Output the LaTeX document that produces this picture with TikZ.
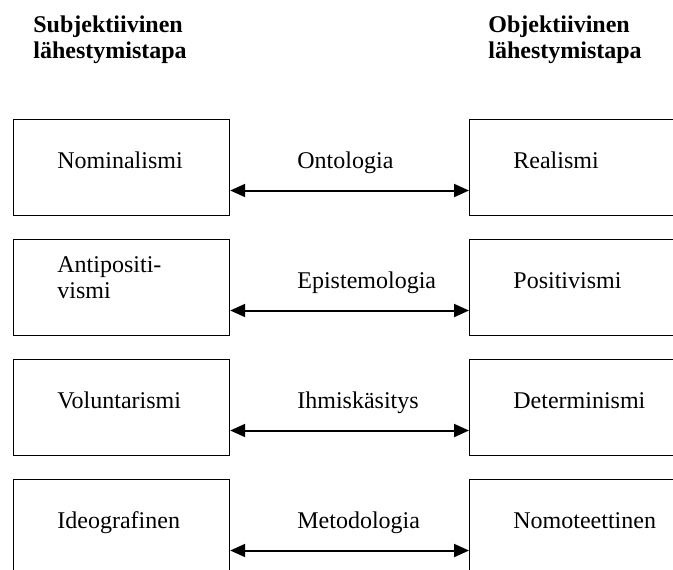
\documentclass[tikz,border=0pt]{standalone}
\usepackage{fontspec}
\setmainfont{Liberation Serif}
\usetikzlibrary{arrows.meta}
\tikzset{
  box/.style={draw, line width=0.6pt, rectangle, inner sep=0pt, minimum width=108pt, minimum height=48pt, anchor=north west},
  rbox/.style={box, minimum width=130pt},
  lbl/.style={inner sep=0pt, anchor=base west, font=\fontsize{12pt}{13pt}\selectfont},
  head/.style={lbl, font=\fontsize{12pt}{13pt}\selectfont\bfseries, align=left},
  link/.style={line width=1pt, {Triangle[length=7.5pt,width=6.5pt]}-{Triangle[length=7.5pt,width=6.5pt]}}
}
\begin{document}
\begin{tikzpicture}[x=0.5pt, y=-0.5pt]
\useasboundingbox (0,0) rectangle (673,569);
\clip (0,0) rectangle (673,569);
\fill[white] (0,0) rectangle (673,569);
% headers
\node[head] (hl1) at (33,32) {Subjektiivinen};
\node[head] (hl2) at (33,58) {lähestymistapa};
\node[head] (hr1) at (488,32) {Objektiivinen};
\node[head] (hr2) at (488,58) {lähestymistapa};
% boxes
\foreach \i/\t in {1/119,2/239,3/359,4/479}{
  \node[box] (L\i) at (13,\t) {};
  \node[rbox] (R\i) at (469,\t) {};
  \draw[link] ([yshift=-35.75pt]L\i.north east) -- ([yshift=-35.75pt]R\i.north west);
}
% texts
\node[lbl] (t1l) at (57,168) {Nominalismi};
\node[lbl] (t1m) at (297,168) {Ontologia};
\node[lbl] (t1r) at (513,168) {Realismi};
\node[lbl] (t2la) at (57,272) {Antipositi-};
\node[lbl] (t2lb) at (57,298) {vismi};
\node[lbl] (t2m) at (297,288) {Epistemologia};
\node[lbl] (t2r) at (513,288) {Positivismi};
\node[lbl] (t3l) at (57,408) {Voluntarismi};
\node[lbl] (t3m) at (297,408) {Ihmiskäsitys};
\node[lbl] (t3r) at (513,408) {Determinismi};
\node[lbl] (t4l) at (57,528) {Ideografinen};
\node[lbl] (t4m) at (297,528) {Metodologia};
\node[lbl] (t4r) at (513,528) {Nomoteettinen};
\end{tikzpicture}
\end{document}
